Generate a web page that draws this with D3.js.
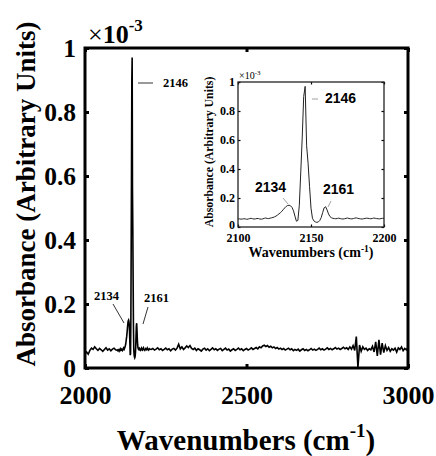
<!DOCTYPE html>
<html><head><meta charset="utf-8">
<script src="https://cdn.jsdelivr.net/npm/d3@7/dist/d3.min.js"></script>
<style>body{margin:0;background:#fff}svg{display:block}</style>
</head><body>
<svg id="c" width="436" height="456"></svg>
<script>
// Absorbance values in units of 1e-3
const startLow = 2000, stepLow = 5;
const absLow = [0.045,0.050,0.043,0.055,0.062,0.058,0.066,0.060,0.055,0.061,0.057,0.052,0.058,0.063,0.056,0.060,0.054,0.059,0.062,0.057];
const startMid = 2100, stepMid = 1;
const absMid = [0.055,0.056,0.054,0.055,0.057,0.056,0.053,0.055,0.058,0.060,
0.057,0.055,0.056,0.059,0.058,0.055,0.054,0.056,0.060,0.062,
0.059,0.058,0.061,0.063,0.066,0.070,0.075,0.082,0.090,0.098,
0.108,0.120,0.132,0.142,0.148,0.150,0.146,0.135,0.112,0.075,
0.040,0.045,0.150,0.380,0.620,0.900,0.970,0.560,0.440,0.280,
0.130,0.060,0.042,0.035,0.032,0.035,0.045,0.065,0.100,0.132,
0.140,0.118,0.090,0.072,0.064,0.060,0.058,0.057,0.059,0.061,
0.058,0.056,0.055,0.057,0.060,0.062,0.059,0.057,0.056,0.058,
0.061,0.063,0.060,0.058,0.056,0.055,0.057,0.059,0.061,0.060,
0.058,0.057,0.059,0.062,0.060,0.058,0.057,0.056,0.058,0.060,0.059];
const startHigh = 2205, stepHigh = 5;
const absHigh = [0.058,0.061,0.056,0.059,0.063,0.057,0.060,0.055,0.058,0.062,
0.057,0.060,0.054,0.059,0.061,0.056,0.062,0.074,0.060,0.066,
0.058,0.063,0.069,0.064,0.070,0.061,0.058,0.062,0.055,0.060,
0.057,0.053,0.059,0.062,0.056,0.060,0.054,0.058,0.063,0.057,
0.060,0.055,0.059,0.061,0.054,0.058,0.062,0.056,0.059,0.053,
0.057,0.060,0.055,0.058,0.062,0.057,0.060,0.054,0.058,0.061,
0.056,0.059,0.063,0.058,0.061,0.064,0.060,0.066,0.063,0.069,
0.071,0.067,0.070,0.065,0.068,0.063,0.066,0.061,0.064,0.059,
0.062,0.058,0.061,0.056,0.059,0.062,0.057,0.060,0.054,0.058,
0.055,0.059,0.053,0.057,0.060,0.055,0.058,0.054,0.057,0.061,
0.056,0.059,0.055,0.058,0.062,0.057,0.060,0.056,0.059,0.063,
0.058,0.061,0.057,0.060,0.064,0.059,0.062,0.058,0.061,0.065,
0.060,0.063,0.058,0.066,0.059,0.070,0.055,0.098,0.002,0.072,
0.052,0.066,0.058,0.062,0.055,0.060,0.057,0.068,0.050,0.082,
0.038,0.088,0.042,0.078,0.048,0.070,0.055,0.064,0.052,0.060,
0.056,0.062,0.050,0.063,0.058,0.066,0.054,0.061,0.057,0.064];

const mainXTicks = [2000, 2500, 3000];
const mainYTicks = [0, 0.2, 0.4, 0.6, 0.8, 1];
const mainYTickLabels = ["0", "0.2", "0.4", "0.6", "0.8", "1"];
const insetXTicks = [2100, 2150, 2200];
const insetYTicks = [0, 0.2, 0.4, 0.6, 0.8, 1];
const insetYTickLabels = ["0", "0.2", "0.4", "0.6", "0.8", "1"];
const peakLabels = ["2134", "2146", "2161"];

function build(start, step, arr) { return arr.map((v, i) => ({x: start + i * step, y: v})); }
const spectrum = [].concat(build(startLow, stepLow, absLow), build(startMid, stepMid, absMid), build(startHigh, stepHigh, absHigh));
const insetData = spectrum.filter(d => d.x >= 2100 && d.x <= 2200);

const svg = d3.select("#c");
const serif = "'Liberation Serif','Times New Roman',serif";
const sans = "'Liberation Sans',Arial,sans-serif";

// ---------- main axes ----------
const M = {l: 85, t: 48, r: 408, b: 368};
const x = d3.scaleLinear().domain([2000, 3000]).range([M.l, M.r]);
const y = d3.scaleLinear().domain([0, 1]).range([M.b, M.t]);

svg.append("defs").append("clipPath").attr("id", "mclip")
  .append("rect").attr("x", M.l).attr("y", M.t).attr("width", M.r - M.l).attr("height", M.b - M.t);

svg.append("path").datum(spectrum)
  .attr("clip-path", "url(#mclip)")
  .attr("fill", "none").attr("stroke", "#000").attr("stroke-width", 1.6)
  .attr("d", d3.line().x(d => x(d.x)).y(d => y(d.y)));

function styleAxis(g, size, weight, font) {
  g.select(".domain").remove();
  g.selectAll(".tick line").attr("stroke", "#000");
  g.selectAll(".tick text").attr("font-family", font).attr("font-weight", weight).attr("font-size", size).attr("fill", "#000");
}
const tl = 4;
svg.append("g").attr("transform", `translate(0,${M.b})`)
  .call(d3.axisBottom(x).tickValues(mainXTicks).tickFormat(d3.format("d")).tickSizeInner(-tl).tickSizeOuter(0).tickPadding(18))
  .call(g => styleAxis(g, 26, "bold", serif)).call(g => g.selectAll(".tick line").attr("stroke-width", 3));
svg.append("g").attr("transform", `translate(0,${M.t})`)
  .call(d3.axisTop(x).tickValues(mainXTicks).tickFormat("").tickSizeInner(-tl).tickSizeOuter(0))
  .call(g => styleAxis(g, 26, "bold", serif)).call(g => g.selectAll(".tick line").attr("stroke-width", 3));
svg.append("g").attr("transform", `translate(${M.l},0)`)
  .call(d3.axisLeft(y).tickValues(mainYTicks).tickFormat((d, i) => mainYTickLabels[i]).tickSizeInner(-tl).tickSizeOuter(0).tickPadding(9))
  .call(g => styleAxis(g, 25.5, "bold", serif)).call(g => g.selectAll(".tick line").attr("stroke-width", 3));
svg.append("g").attr("transform", `translate(${M.r},0)`)
  .call(d3.axisRight(y).tickValues(mainYTicks).tickFormat("").tickSizeInner(-tl).tickSizeOuter(0))
  .call(g => styleAxis(g, 26, "bold", serif)).call(g => g.selectAll(".tick line").attr("stroke-width", 3));

svg.append("rect").attr("x", M.l).attr("y", M.t).attr("width", M.r - M.l).attr("height", M.b - M.t)
  .attr("fill", "none").attr("stroke", "#000").attr("stroke-width", 3);

// exponent
const ex = svg.append("text").attr("x", M.l + 3).attr("y", M.t - 5).attr("font-family", serif).attr("font-size", 26).attr("fill", "#000");
ex.append("tspan").text("×");
ex.append("tspan").attr("font-weight", "bold").text("10");
ex.append("tspan").attr("dy", -12).attr("font-size", 17).attr("font-weight", "bold").text("-3");

// axis titles
const xt = svg.append("text").attr("x", 246).attr("y", 450).attr("text-anchor", "middle")
  .attr("font-family", serif).attr("font-weight", "bold").attr("font-size", 29).attr("fill", "#000");
xt.append("tspan").text("Wavenumbers (cm");
xt.append("tspan").attr("dy", -13).attr("font-size", 19).text("-1");
xt.append("tspan").attr("dy", 13).text(")");
svg.append("text").attr("transform", "translate(35,194) rotate(-90)").attr("text-anchor", "middle")
  .attr("font-family", serif).attr("font-weight", "bold").attr("font-size", 27).attr("fill", "#000")
  .text("Absorbance (Arbitrary Units)");

// main annotations
const ann = svg.append("g").attr("font-family", serif).attr("font-weight", "bold").attr("font-size", 12.5).attr("fill", "#000");
ann.append("line").attr("x1", 138).attr("y1", 83).attr("x2", 153).attr("y2", 83).attr("stroke", "#000").attr("stroke-width", 0.8);
ann.append("text").attr("x", 163).attr("y", 87).text(peakLabels[1]);
ann.append("line").attr("x1", 113).attr("y1", 304).attr("x2", 124).attr("y2", 323).attr("stroke", "#000").attr("stroke-width", 0.8);
ann.append("text").attr("x", 94).attr("y", 300).text(peakLabels[0]);
ann.append("line").attr("x1", 148).attr("y1", 307).attr("x2", 143).attr("y2", 324).attr("stroke", "#000").attr("stroke-width", 0.8);
ann.append("text").attr("x", 144).attr("y", 302).text(peakLabels[2]);

// ---------- inset ----------
const I = {l: 238, t: 82, r: 384, b: 227};
const xi = d3.scaleLinear().domain([2100, 2200]).range([I.l, I.r]);
const yi = d3.scaleLinear().domain([0, 1]).range([I.b, I.t]);

svg.append("rect").attr("x", I.l).attr("y", I.t).attr("width", I.r - I.l).attr("height", I.b - I.t).attr("fill", "#fff");
svg.select("defs").append("clipPath").attr("id", "iclip")
  .append("rect").attr("x", I.l).attr("y", I.t).attr("width", I.r - I.l).attr("height", I.b - I.t);
svg.append("path").datum(insetData)
  .attr("clip-path", "url(#iclip)")
  .attr("fill", "none").attr("stroke", "#222").attr("stroke-width", 1)
  .attr("d", d3.line().x(d => xi(d.x)).y(d => yi(d.y)));

const itl = 2.5;
svg.append("g").attr("transform", `translate(0,${I.b})`)
  .call(d3.axisBottom(xi).tickValues(insetXTicks).tickFormat(d3.format("d")).tickSizeInner(-itl).tickSizeOuter(0).tickPadding(6))
  .call(g => styleAxis(g, 12, "bold", serif)).call(g => g.selectAll(".tick line").attr("stroke-width", 1.2));
svg.append("g").attr("transform", `translate(0,${I.t})`)
  .call(d3.axisTop(xi).tickValues(insetXTicks).tickFormat("").tickSizeInner(-itl).tickSizeOuter(0))
  .call(g => styleAxis(g, 12, "bold", serif)).call(g => g.selectAll(".tick line").attr("stroke-width", 1.2));
svg.append("g").attr("transform", `translate(${I.l},0)`)
  .call(d3.axisLeft(yi).tickValues(insetYTicks).tickFormat((d, i) => insetYTickLabels[i]).tickSizeInner(-itl).tickSizeOuter(0).tickPadding(3))
  .call(g => styleAxis(g, 12, "bold", serif)).call(g => g.selectAll(".tick line").attr("stroke-width", 1.2))
  .call(g => g.selectAll(".tick text").filter(d => d === 0).attr("dy", "0.1em"));
svg.append("g").attr("transform", `translate(${I.r},0)`)
  .call(d3.axisRight(yi).tickValues(insetYTicks).tickFormat("").tickSizeInner(-itl).tickSizeOuter(0))
  .call(g => styleAxis(g, 12, "bold", serif)).call(g => g.selectAll(".tick line").attr("stroke-width", 1.2));
svg.append("rect").attr("x", I.l).attr("y", I.t).attr("width", I.r - I.l).attr("height", I.b - I.t)
  .attr("fill", "none").attr("stroke", "#222").attr("stroke-width", 1.3);

const iex = svg.append("text").attr("x", I.l + 1).attr("y", I.t - 3).attr("font-family", serif).attr("font-size", 10).attr("fill", "#000");
iex.append("tspan").text("×10");
iex.append("tspan").attr("dy", -4).attr("font-size", 7).text("-3");

const ixt = svg.append("text").attr("x", 311).attr("y", 257).attr("text-anchor", "middle")
  .attr("font-family", serif).attr("font-weight", "bold").attr("font-size", 14).attr("fill", "#000");
ixt.append("tspan").text("Wavenumbers (cm");
ixt.append("tspan").attr("dy", -5).attr("font-size", 9.5).text("-1");
ixt.append("tspan").attr("dy", 5).text(")");
svg.append("text").attr("transform", "translate(213,152) rotate(-90)").attr("text-anchor", "middle")
  .attr("font-family", serif).attr("font-weight", "bold").attr("font-size", 11.8).attr("fill", "#000")
  .text("Absorbance (Arbitrary Units)");

const iann = svg.append("g").attr("font-family", sans).attr("font-weight", "bold").attr("font-size", 14).attr("fill", "#000");
iann.append("line").attr("x1", 312).attr("y1", 99).attr("x2", 318).attr("y2", 99).attr("stroke", "#888").attr("stroke-width", 0.8);
iann.append("text").attr("x", 325).attr("y", 103).text(peakLabels[1]);
iann.append("line").attr("x1", 283).attr("y1", 198).attr("x2", 288).attr("y2", 204).attr("stroke", "#888").attr("stroke-width", 0.8);
iann.append("text").attr("x", 255).attr("y", 192).text(peakLabels[0]);
iann.append("line").attr("x1", 331).attr("y1", 201).attr("x2", 328).attr("y2", 207).attr("stroke", "#888").attr("stroke-width", 0.8);
iann.append("text").attr("x", 323).attr("y", 194).text(peakLabels[2]);
</script>
</body></html>
